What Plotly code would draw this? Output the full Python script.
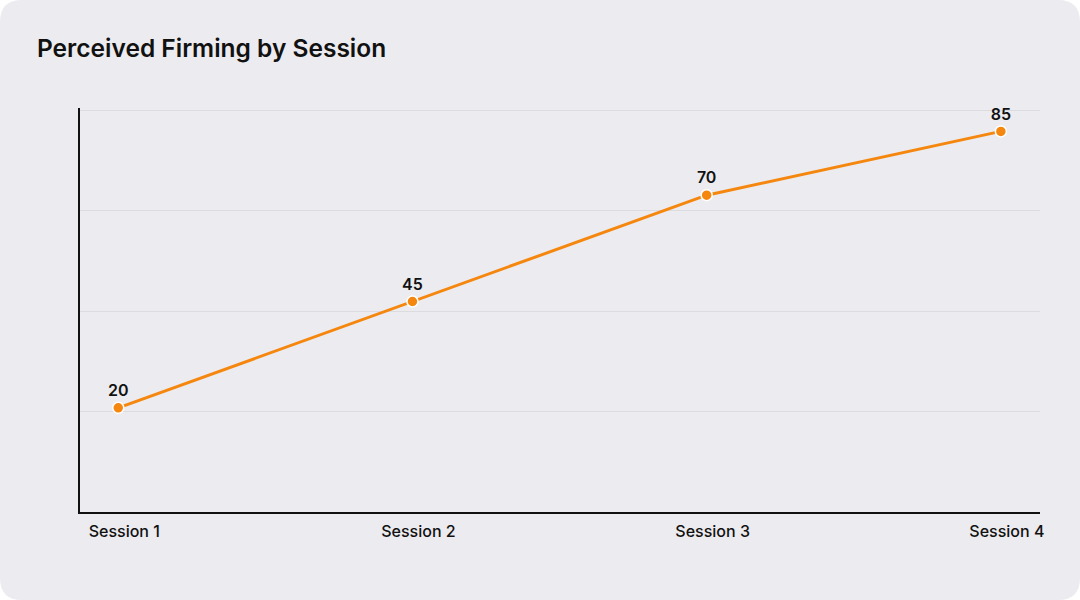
import plotly.graph_objects as go

categories = ["Session 1", "Session 2", "Session 3", "Session 4"]
values = [20, 45, 70, 85]
title_text = "Perceived Firming by Session"

y_min, y_max = -4.5, 90
grid_vals = [y_min + k * (y_max - y_min) / 4 for k in range(1, 5)]

W, H = 1080, 600
ml, mr, mt, mb = 80, 40, 108, 88
pw, ph = W - ml - mr, H - mt - mb

fig = go.Figure()
fig.add_trace(go.Scatter(
    x=list(range(len(categories))), y=values,
    mode="lines+markers+text",
    text=[str(v) for v in values],
    textposition="top center",
    textfont=dict(family="Inter", size=16, color="#111111", weight=600),
    line=dict(color="#F5870F", width=3),
    marker=dict(color="#F5870F", size=11, line=dict(color="white", width=1.5)),
    cliponaxis=False,
    hoverinfo="skip",
))

# rounded background card
x0, x1 = -ml / pw, 1 + mr / pw
y0, y1 = -mb / ph, 1 + mt / ph
rx, ry = 22 / pw, 22 / ph
path = (f"M {x0+rx} {y0} L {x1-rx} {y0} Q {x1} {y0} {x1} {y0+ry} "
        f"L {x1} {y1-ry} Q {x1} {y1} {x1-rx} {y1} "
        f"L {x0+rx} {y1} Q {x0} {y1} {x0} {y1-ry} "
        f"L {x0} {y0+ry} Q {x0} {y0} {x0+rx} {y0} Z")
fig.add_shape(type="path", path=path, xref="paper", yref="paper",
              fillcolor="#ECEBEF", line=dict(width=0), layer="below")

fig.update_layout(
    width=W, height=H,
    margin=dict(l=ml, r=mr, t=mt, b=mb),
    paper_bgcolor="white",
    plot_bgcolor="rgba(0,0,0,0)",
    showlegend=False,
    title=dict(text=title_text, x=37 / W, xanchor="left", y=1 - 48 / H, yanchor="middle",
               font=dict(family="Inter", size=24.5, color="#111111", weight=600)),
    xaxis=dict(
        range=[-0.13, 3.133],
        tickmode="array", tickvals=list(range(len(categories))), ticktext=categories,
        showgrid=False, zeroline=False,
        showline=True, linecolor="#111111", linewidth=2,
        ticks="", tickfont=dict(family="Inter", size=16, color="#111111", weight=500),
        ticklabelstandoff=4, ticklabelshift=6,
    ),
    yaxis=dict(
        range=[y_min, y_max + 0.5],
        tickmode="array", tickvals=grid_vals, showticklabels=False,
        showgrid=True, gridcolor="#DCDBE0", gridwidth=1,
        zeroline=False, showline=True, linecolor="#111111", linewidth=2, ticks="",
    ),
)

fig.write_html("out.html", config={"displayModeBar": False},
               post_script="document.body.style.margin='0';")
